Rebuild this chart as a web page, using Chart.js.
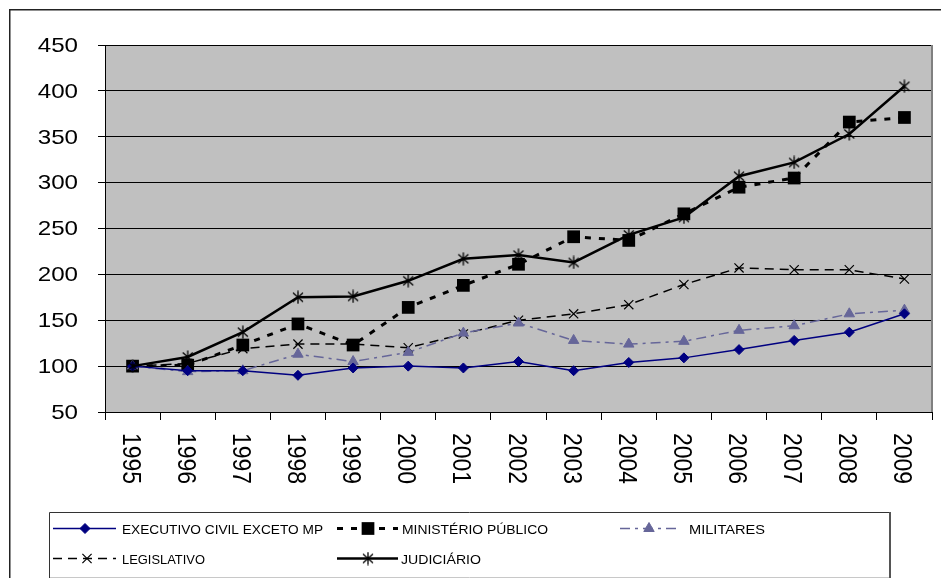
<!DOCTYPE html>
<html>
<head>
<meta charset="utf-8">
<script src="https://cdn.jsdelivr.net/npm/chart.js@4/dist/chart.umd.min.js"></script>
<style>
  html, body { margin: 0; padding: 0; background: #fff; }
  #c { display: block; }
</style>
</head>
<body>
<canvas id="c" width="941" height="578"></canvas>
<script>
// Index numbers (1995 = 100) by branch of government
const years = ['1995','1996','1997','1998','1999','2000','2001','2002','2003','2004','2005','2006','2007','2008','2009'];
const executivo   = [100,  95,  95,  90,  98, 100,  98, 105,  95, 104, 109, 118, 128, 137, 157];
const ministerio  = [100, 101, 123, 146, 123, 164, 188, 211, 241, 237, 266, 295, 305, 366, 371];
const militares   = [100,  94,  95, 113, 105, 115, 136, 147, 128, 124, 127, 139, 144, 157, 161];
const legislativo = [100, 103, 119, 124, 124, 120, 135, 150, 157, 167, 189, 207, 205, 205, 195];
const judiciario  = [100, 110, 137, 175, 176, 193, 217, 221, 213, 243, 262, 307, 322, 353, 405];
const yTicks = [50, 100, 150, 200, 250, 300, 350, 400, 450];
const seriesNames = ['EXECUTIVO CIVIL EXCETO MP', 'MINISTÉRIO PÚBLICO', 'MILITARES', 'LEGISLATIVO', 'JUDICIÁRIO'];

// Asterisk marker: an X crossed by a vertical stroke
function asteriskMarker() {
  const s = 14, c = document.createElement('canvas');
  c.width = s; c.height = s;
  const g = c.getContext('2d');
  g.strokeStyle = '#000';
  g.lineWidth = 1.3;
  g.beginPath();
  g.moveTo(2, 2.5);  g.lineTo(12, 11.5);
  g.moveTo(12, 2.5); g.lineTo(2, 11.5);
  g.moveTo(7, 0.5);  g.lineTo(7, 13.5);
  g.stroke();
  return c;
}
const star = asteriskMarker();

const FONT = '"Liberation Sans", Arial, sans-serif';

const datasets = [
  { label: seriesNames[0], data: executivo, borderColor: '#000080', backgroundColor: '#000080',
    borderWidth: 1.5, pointStyle: 'rectRot', pointRadius: 5, pointBorderWidth: 1, order: 1 },
  { label: seriesNames[1], data: ministerio, borderColor: '#000', backgroundColor: '#000',
    borderWidth: 3, borderDash: [6, 8], pointStyle: 'rect', pointRadius: 9, pointBorderWidth: 0, order: 4 },
  { label: seriesNames[2], data: militares, borderColor: '#666699', backgroundColor: '#666699',
    borderWidth: 1.5, borderDash: [10, 5, 3, 5], pointStyle: 'triangle', pointRadius: 6, pointBorderWidth: 1, order: 2 },
  { label: seriesNames[3], data: legislativo, borderColor: '#000', backgroundColor: '#000',
    borderWidth: 1.5, borderDash: [9, 6], pointStyle: 'crossRot', pointRadius: 6.5, pointBorderWidth: 1.2, order: 3 },
  { label: seriesNames[4], data: judiciario, borderColor: '#000', backgroundColor: '#000',
    borderWidth: 2.5, pointStyle: star, pointRadius: 7, pointBorderWidth: 1, order: 0 }
];

// Frame, plot background, axis labels and legend box
const decor = {
  id: 'decor',
  beforeDraw(chart) {
    const ctx = chart.ctx, a = chart.chartArea;
    ctx.save();
    ctx.fillStyle = '#fff';
    ctx.fillRect(0, 0, chart.width, chart.height);
    ctx.strokeStyle = '#222';
    ctx.lineWidth = 1.5;
    ctx.strokeRect(9.75, 9.75, 1000, 1000);
    ctx.fillStyle = '#c0c0c0';
    ctx.fillRect(a.left, a.top, a.right - a.left, a.bottom - a.top);
    ctx.restore();
  },
  afterDraw(chart) {
    const ctx = chart.ctx, a = chart.chartArea;
    const xs = chart.scales.x, ys = chart.scales.y;
    ctx.save();
    // right edge of plot area
    ctx.strokeStyle = '#808080';
    ctx.lineWidth = 2;
    ctx.beginPath(); ctx.moveTo(a.right, a.top); ctx.lineTo(a.right, a.bottom); ctx.stroke();

    // y tick labels
    ctx.fillStyle = '#000';
    ctx.font = '21px ' + FONT;
    ctx.textAlign = 'right';
    ctx.textBaseline = 'middle';
    yTicks.forEach(v => {
      const py = ys.getPixelForValue(v);
      ctx.save();
      ctx.translate(78, py + 1);
      ctx.scale(1.15, 1);
      ctx.fillText(String(v), 0, 0);
      ctx.restore();
    });

    // x tick labels, rotated to read downward
    ctx.font = '23px ' + FONT;
    ctx.textAlign = 'left';
    ctx.textBaseline = 'middle';
    years.forEach((y, i) => {
      const px = xs.getPixelForValue(i);
      ctx.save();
      ctx.translate(px - 3, 433);
      ctx.scale(1.1, 1);
      ctx.rotate(Math.PI / 2);
      ctx.fillText(y, 0, 0);
      ctx.restore();
    });

    // legend box
    ctx.strokeStyle = '#333';
    ctx.lineWidth = 1;
    ctx.beginPath();
    ctx.moveTo(49.5, 590); ctx.lineTo(49.5, 512.5); ctx.lineTo(889.5, 512.5);
    ctx.stroke();
    ctx.strokeStyle = '#555';
    ctx.lineWidth = 2;
    ctx.beginPath(); ctx.moveTo(890, 512); ctx.lineTo(890, 590); ctx.stroke();
    ctx.strokeStyle = '#c8c8c8';
    ctx.lineWidth = 1;
    ctx.beginPath(); ctx.moveTo(50, 577.5); ctx.lineTo(889, 577.5); ctx.stroke();

    // legend entries: [dataset, lineStart, lineEnd, markerX, lineY, textX, baseline, textWidth]
    const entries = [
      [0,  53, 116,  85, 528.5, 122, 533.5, 201],
      [1, 337, 398, 368, 528.5, 402, 533.5, 146],
      [2, 620, 676, 649, 528.5, 689, 533.5, 76],
      [3,  53, 116,  87, 558.5, 122, 564, 83],
      [4, 337, 398, 368, 558.5, 401, 564, 80]
    ];
    entries.forEach(([di, x0, x1, mx, ly, tx, tb, tw]) => {
      const ds = chart.data.datasets[di];
      ctx.save();
      ctx.strokeStyle = ds.borderColor;
      ctx.lineWidth = ds.borderWidth;
      ctx.setLineDash(ds.borderDash || []);
      ctx.beginPath(); ctx.moveTo(x0, ly); ctx.lineTo(x1, ly); ctx.stroke();
      ctx.setLineDash([]);
      ctx.fillStyle = ds.backgroundColor;
      ctx.strokeStyle = ds.borderColor;
      ctx.lineWidth = ds.pointBorderWidth;
      Chart.helpers.drawPoint(ctx, {
        pointStyle: ds.pointStyle, radius: ds.pointRadius, rotation: 0, borderWidth: ds.pointBorderWidth
      }, mx, ly);
      ctx.fillStyle = '#000';
      ctx.font = '13px ' + FONT;
      ctx.textAlign = 'left';
      ctx.textBaseline = 'alphabetic';
      const w = ctx.measureText(ds.label).width;
      ctx.translate(tx, tb);
      ctx.scale(tw / w, 1);
      ctx.fillText(ds.label, 0, 0);
      ctx.restore();
    });
    ctx.restore();
  }
};

new Chart(document.getElementById('c'), {
  type: 'line',
  data: { labels: years, datasets },
  options: {
    responsive: false,
    animation: false,
    events: [],
    devicePixelRatio: 1,
    layout: { padding: { left: 0, top: 45, right: 2, bottom: 0 } },
    elements: { line: { tension: 0, fill: false } },
    plugins: { legend: { display: false }, tooltip: { enabled: false }, title: { display: false } },
    scales: {
      x: {
        type: 'category',
        offset: true,
        ticks: { display: false },
        grid: { offset: true, drawOnChartArea: false, drawTicks: true, tickLength: 8, color: '#000', lineWidth: 1 },
        border: { color: '#000', width: 1 },
        afterFit(s) { s.height = 166; }
      },
      y: {
        min: 50, max: 450,
        ticks: { display: false, stepSize: 50 },
        grid: { color: '#000', lineWidth: 1, drawTicks: true, tickLength: 7 },
        border: { color: '#000', width: 1 },
        afterFit(s) { s.width = 105; }
      }
    }
  },
  plugins: [decor]
});
</script>
</body>
</html>
